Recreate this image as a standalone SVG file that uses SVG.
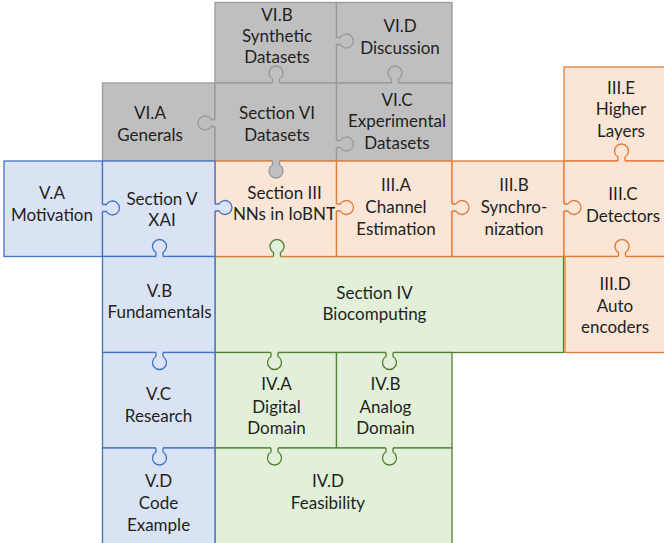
<svg xmlns="http://www.w3.org/2000/svg" xmlns:xlink="http://www.w3.org/1999/xlink" width="664" height="543" viewBox="0 0 664 543">
<style>
  .g rect{fill:#bfbfbf;stroke:#999999;stroke-width:1.3}
  .gr rect{fill:#e2f0d9;stroke:#548235;stroke-width:1.3}
  .o rect{fill:#fbe5d6;stroke:#e07a35;stroke-width:1.3}
  .b rect{fill:#dae3f3;stroke:#4472c4;stroke-width:1.3}
  text{font-family:Lato,"Open Sans","Liberation Sans",sans-serif;font-size:17px;fill:#1f1f1f;text-anchor:middle}
  .kf{stroke:none}
  .ks{fill:none;stroke-width:1.3}
  .tg{fill:#bfbfbf;stroke:#999999}
  .tgr{fill:#e2f0d9;stroke:#548235}
  .to{fill:#fbe5d6;stroke:#e07a35}
  .tb{fill:#dae3f3;stroke:#4472c4}
</style>
<defs>
  <g id="kU">
    <path class="kf" d="M-3.5 1.5 L-3.5 -3.94 A7 7 0 1 1 3.5 -3.94 L3.5 1.5 Z"/>
    <path class="ks" d="M-3.5 0 L-3.5 -3.94 A7 7 0 1 1 3.5 -3.94 L3.5 0"/>
  </g>
</defs>
<rect width="664" height="543" fill="#ffffff"/>

<g id="n-VIB" class="g"><rect x="215" y="2.5" width="121.5" height="80.5"/>
  <text x="277" y="21">VI.B</text><text x="277" y="42">Synthetic</text><text x="277" y="63">Datasets</text></g>
<g id="n-VID" class="g"><rect x="336.5" y="2.5" width="115.5" height="80.5"/>
  <text x="400" y="32">VI.D</text><text x="400" y="53.5">Discussion</text></g>
<g id="n-VIA" class="g"><rect x="102.5" y="83" width="112.5" height="78"/>
  <text x="150" y="119">VI.A</text><text x="150" y="140.5">Generals</text></g>
<g id="n-VI" class="g"><rect x="215" y="83" width="121.5" height="78"/>
  <text x="277" y="119">Section VI</text><text x="277" y="140.5">Datasets</text></g>
<g id="n-VIC" class="g"><rect x="336.5" y="83" width="115.5" height="78"/>
  <text x="397" y="105.5">VI.C</text><text x="397" y="127">Experimental</text><text x="397" y="148.5">Datasets</text></g>

<g id="n-IV" class="gr"><rect x="215" y="256.5" width="348.5" height="96"/>
  <text x="374.5" y="298.5">Section IV</text><text x="374.5" y="320">Biocomputing</text></g>
<g id="n-IVA" class="gr"><rect x="215" y="352.5" width="121.5" height="95.5"/>
  <text x="276.5" y="390">IV.A</text><text x="276.5" y="412.5">Digital</text><text x="276.5" y="434">Domain</text></g>
<g id="n-IVB" class="gr"><rect x="336.5" y="352.5" width="115.5" height="95.5"/>
  <text x="385.5" y="389.5">IV.B</text><text x="385.5" y="412.5">Analog</text><text x="385.5" y="434">Domain</text></g>
<g id="n-IVD" class="gr"><rect x="215" y="448" width="237" height="97"/>
  <text x="328" y="487">IV.D</text><text x="328" y="508.5">Feasibility</text></g>

<g id="n-IIIE" class="o"><rect x="564" y="67" width="102" height="94"/>
  <text x="621" y="93.5">III.E</text><text x="621" y="115">Higher</text><text x="621" y="136.5">Layers</text></g>
<g id="n-III" class="o"><rect x="215" y="161" width="121.5" height="95.5"/>
  <text x="284.5" y="198.5">Section III</text><text x="284.5" y="220">NNs in IoBNT</text></g>
<g id="n-IIIA" class="o"><rect x="336.5" y="161" width="115.5" height="95.5"/>
  <text x="396" y="190.5">III.A</text><text x="396" y="212.5">Channel</text><text x="396" y="234.5">Estimation</text></g>
<g id="n-IIIB" class="o"><rect x="452" y="161" width="112" height="95.5"/>
  <text x="514" y="190.5">III.B</text><text x="514" y="212.5">Synchro-</text><text x="514" y="235">nization</text></g>
<g id="n-IIIC" class="o"><rect x="564" y="161" width="102" height="95.5"/>
  <text x="623" y="199.5">III.C</text><text x="623" y="221.5">Detectors</text></g>
<g id="n-IIID" class="o"><rect x="565" y="256.5" width="101" height="96"/>
  <text x="615" y="290">III.D</text><text x="615" y="311.5">Auto</text><text x="615" y="333">encoders</text></g>

<g id="n-VA" class="b"><rect x="4" y="161" width="98.5" height="95.5"/>
  <text x="52" y="198.5">V.A</text><text x="52" y="220.5">Motivation</text></g>
<g id="n-V" class="b"><rect x="102.5" y="161" width="112.5" height="95.5"/>
  <text x="162" y="205">Section V</text><text x="162" y="226">XAI</text></g>
<g id="n-VB" class="b"><rect x="102.5" y="256.5" width="112.5" height="96"/>
  <text x="159.5" y="296.5">V.B</text><text x="159.5" y="317.5">Fundamentals</text></g>
<g id="n-VC" class="b"><rect x="102.5" y="352.5" width="112.5" height="95.5"/>
  <text x="158.5" y="400">V.C</text><text x="158.5" y="421.5">Research</text></g>
<g id="n-VD" class="b"><rect x="102.5" y="448" width="112.5" height="97"/>
  <text x="158.5" y="487">V.D</text><text x="158.5" y="509">Code</text><text x="158.5" y="530.5">Example</text></g>

<g id="connectors">
  <use xlink:href="#kU" class="tg" transform="translate(276,83)"/>
  <use xlink:href="#kU" class="tg" transform="translate(395,83)"/>
  <use xlink:href="#kU" class="tg" transform="translate(336.5,41) rotate(90)"/>
  <use xlink:href="#kU" class="tg" transform="translate(215,123) rotate(-90)"/>
  <use xlink:href="#kU" class="tg" transform="translate(336.5,144) rotate(90)"/>
  <use xlink:href="#kU" class="tg" transform="translate(276,161) rotate(180)"/>

  <use xlink:href="#kU" class="tb" transform="translate(102.5,208) rotate(90)"/>
  <use xlink:href="#kU" class="tb" transform="translate(215,207.5) rotate(90)"/>
  <use xlink:href="#kU" class="tb" transform="translate(159.5,256.5)"/>
  <use xlink:href="#kU" class="tb" transform="translate(159.5,352.5) rotate(180)"/>
  <use xlink:href="#kU" class="tb" transform="translate(159.5,448) rotate(180)"/>

  <use xlink:href="#kU" class="to" transform="translate(336.5,207.5) rotate(90)"/>
  <use xlink:href="#kU" class="to" transform="translate(452,207.5) rotate(90)"/>
  <use xlink:href="#kU" class="to" transform="translate(564,207.5) rotate(90)"/>
  <use xlink:href="#kU" class="to" transform="translate(621.5,161)"/>
  <use xlink:href="#kU" class="to" transform="translate(622,256.5)"/>

  <use xlink:href="#kU" class="tgr" transform="translate(277,256.5)"/>
  <use xlink:href="#kU" class="tgr" transform="translate(274.5,352.5) rotate(180)"/>
  <use xlink:href="#kU" class="tgr" transform="translate(389.5,352.5) rotate(180)"/>
  <use xlink:href="#kU" class="tgr" transform="translate(274.5,448) rotate(180)"/>
  <use xlink:href="#kU" class="tgr" transform="translate(389.5,448) rotate(180)"/>
</g>
</svg>
